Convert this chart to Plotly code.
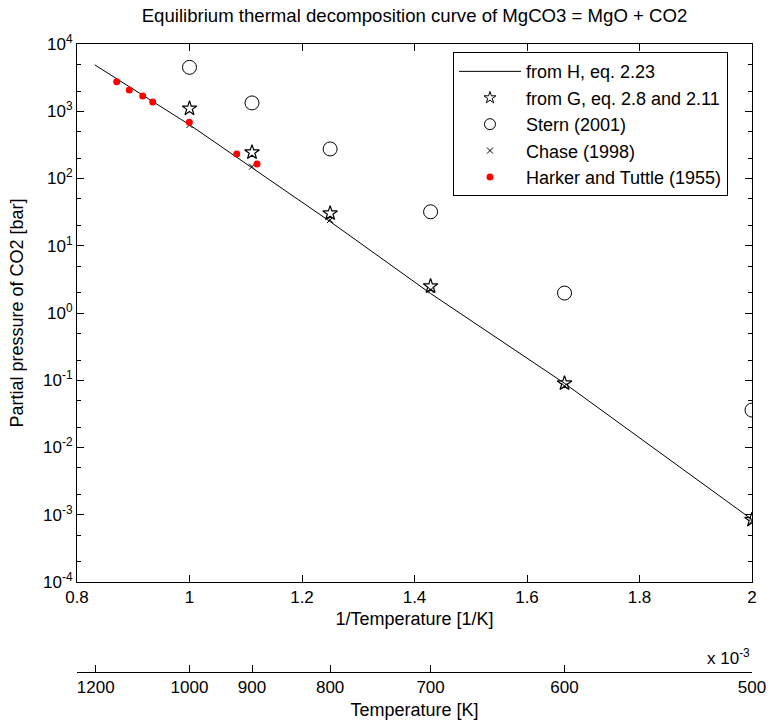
import plotly.graph_objects as go

# 1/T in units of 1e-3 1/K ; pressures in bar
line_x = [0.8315, 1.0, 1.25, 1.4286, 1.6667, 2.0]
line_p = [4900, 630, 22.9, 1.95, 0.090, 8.5e-4]

calc_x = [1.0, 1.1111, 1.25, 1.4286, 1.6667, 2.0]
star_p = [1100, 245, 30.4, 2.5, 0.090, 8.4e-4]
stern_p = [4500, 1330, 275, 32, 1.98, 0.036]
chase_p = [625, 150, 24.2, 2.2, 0.082, 8.0e-4]

harker_x = [0.8706, 0.893, 0.9168, 0.9346, 0.9996, 1.0839, 1.12]
harker_p = [2750, 2070, 1690, 1370, 685, 231, 164]

temp_ticks = [1200, 1000, 900, 800, 700, 600, 500]
inv_ticks = [0.8, 1.0, 1.2, 1.4, 1.6, 1.8, 2.0]
inv_text = ["0.8", "1", "1.2", "1.4", "1.6", "1.8", "2"]
y_exps = [-4, -3, -2, -1, 0, 1, 2, 3, 4]

names = ["from H, eq. 2.23", "from G, eq. 2.8 and 2.11", "Stern (2001)",
         "Chase (1998)", "Harker and Tuttle (1955)"]

FONT = "Liberation Sans"

star_m = dict(symbol="star-open", size=11, color="black", line=dict(width=1.2))
circ_m = dict(symbol="circle-open", size=14, color="black", line=dict(width=1))
x_m = dict(symbol="x-thin-open", size=6, color="black", line=dict(width=1))
red_m = dict(symbol="circle", size=7, color="red")

fig = go.Figure()
fig.add_trace(go.Scatter(x=line_x, y=line_p, mode="lines", name=names[0], showlegend=False,
                         line=dict(color="black", width=1)))
fig.add_trace(go.Scatter(x=calc_x, y=star_p, mode="markers", name=names[1], showlegend=False,
                         marker=star_m))
fig.add_trace(go.Scatter(x=calc_x, y=stern_p, mode="markers", name=names[2], showlegend=False,
                         marker=circ_m))
fig.add_trace(go.Scatter(x=calc_x, y=chase_p, mode="markers", name=names[3], showlegend=False,
                         marker=x_m))
fig.add_trace(go.Scatter(x=harker_x, y=harker_p, mode="markers", name=names[4], showlegend=False,
                         marker=red_m))

# legend-only entries (smaller symbols, as in the reference legend)
fig.add_trace(go.Scatter(x=[None], y=[None], mode="lines", name=names[0],
                         line=dict(color="black", width=1)))
fig.add_trace(go.Scatter(x=[None], y=[None], mode="markers", name=names[1],
                         marker=dict(symbol="star-open", size=9, color="black", line=dict(width=1))))
fig.add_trace(go.Scatter(x=[None], y=[None], mode="markers", name=names[2],
                         marker=dict(symbol="circle-open", size=11, color="black", line=dict(width=1))))
fig.add_trace(go.Scatter(x=[None], y=[None], mode="markers", name=names[3],
                         marker=dict(symbol="x-thin-open", size=6, color="black", line=dict(width=1))))
fig.add_trace(go.Scatter(x=[None], y=[None], mode="markers", name=names[4],
                         marker=dict(symbol="circle", size=7, color="red")))

# invisible trace for the temperature axis
fig.add_trace(go.Scatter(x=[1.0], y=[1.0], xaxis="x2", mode="markers", showlegend=False,
                         marker=dict(opacity=0), hoverinfo="skip"))

fig.update_layout(
    width=768, height=722,
    margin=dict(l=77, r=16, t=44, b=50),
    paper_bgcolor="white", plot_bgcolor="white",
    font=dict(family=FONT, size=17, color="black"),
    title=dict(text="Equilibrium thermal decomposition curve of MgCO3 = MgO + CO2",
               x=0.5, xref="paper", y=1, yref="container", yanchor="top", pad=dict(t=9),
               font=dict(family=FONT, size=18.6)),
    showlegend=True,
    legend=dict(x=0.557, y=0.987, xanchor="left", yanchor="top",
                bordercolor="black", borderwidth=1, bgcolor="white",
                font=dict(family=FONT, size=18), tracegroupgap=0, itemwidth=62),
    xaxis=dict(range=[0.8, 2.0], tickvals=inv_ticks, ticktext=inv_text,
               showline=True, linecolor="black", linewidth=1, mirror="ticks",
               ticks="inside", ticklen=7, tickcolor="black", showgrid=False, zeroline=False,
               title=dict(text="1/Temperature [1/K]", standoff=5, font=dict(size=18)),
               anchor="y", automargin=False),
    yaxis=dict(type="log", range=[-4, 4], domain=[0.1433, 1],
               tickvals=[10.0 ** e for e in y_exps],
               ticktext=["10<sup>%d</sup>" % e for e in y_exps],
               showline=True, linecolor="black", linewidth=1, mirror="ticks",
               ticks="inside", ticklen=7, tickcolor="black", showgrid=False, zeroline=False,
               minor=dict(ticks="inside", ticklen=4, tickcolor="black", showgrid=False),
               title=dict(text="Partial pressure of CO2 [bar]", standoff=14, font=dict(size=18)),
               automargin=False),
    xaxis2=dict(range=[0.8, 2.0], overlaying="x", anchor="free", position=0, side="bottom",
                tickvals=[1000.0 / t for t in temp_ticks], ticktext=[str(t) for t in temp_ticks],
                showline=True, linecolor="black", linewidth=1,
                ticks="inside", ticklen=7, tickcolor="black", showgrid=False, zeroline=False,
                title=dict(text="Temperature [K]", standoff=6, font=dict(size=18)),
                automargin=False),
)

fig.add_annotation(text="x 10<sup>-3</sup>", xref="paper", yref="paper", x=1.0, y=0.1433,
                   xanchor="right", yanchor="top", yshift=-62, showarrow=False,
                   font=dict(family=FONT, size=17))

fig.write_html("out.html")
